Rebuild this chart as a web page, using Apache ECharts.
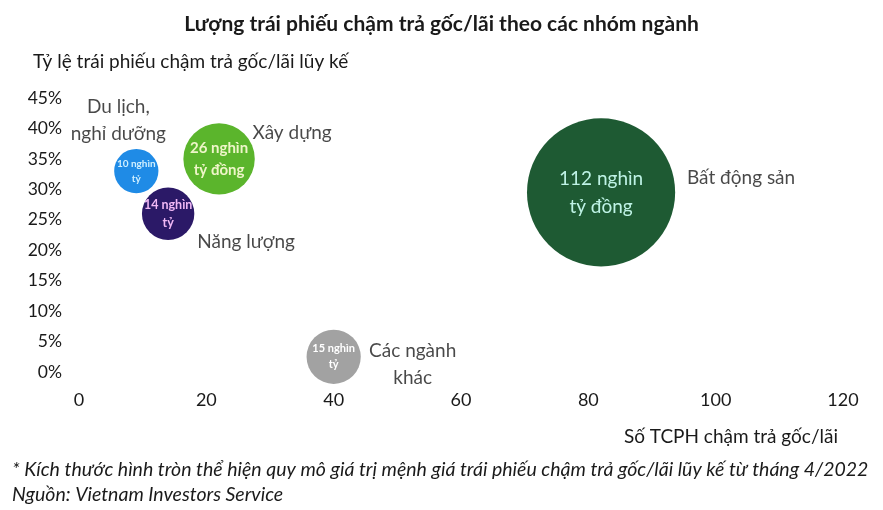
<!DOCTYPE html>
<html>
<head>
<meta charset="utf-8">
<script src="https://cdn.jsdelivr.net/npm/echarts@6/dist/echarts.min.js"></script>
<style>
    html, body { margin: 0; padding: 0; background: #fff; }
    #chart { width: 883px; height: 510px; }
</style>
</head>
<body>
<div id="chart"></div>
<script>
// dữ liệu
const sectors = ['Du lịch,\nnghỉ dưỡng', 'Năng lượng', 'Xây dựng', 'Các ngành\nkhác', 'Bất động sản'];
const issuers = [9, 14, 22, 40, 82];          // Số TCPH chậm trả gốc/lãi
const ratios = [33, 26, 35, 2.5, 29.5];       // Tỷ lệ (%)
const values = [10, 14, 26, 15, 112];         // nghìn tỷ đồng
const bubbleLabels = ['10 nghìn\ntỷ', '14 nghìn\ntỷ', '26 nghìn\ntỷ đồng', '15 nghìn\ntỷ', '112 nghìn\ntỷ đồng'];
const xTicks = [0, 20, 40, 60, 80, 100, 120];
const yTicks = [0, 5, 10, 15, 20, 25, 30, 35, 40, 45];

// kiểu
const colors = ['#1f8be6', '#2b1967', '#5bb52c', '#a2a2a2', '#1e5a33'];
const textColors = ['#cfefff', '#f0b8f5', '#eef5c8', '#ffffff', '#bff3e6'];
const textSizes = [10, 12.5, 15, 11, 19];
const nameOffsets = [[-18, -51], [78, 28], [73, -26], [79, 8], [140, -15]];
const FONT = 'Lato';

let myChart = echarts.init(document.getElementById('chart'));

let bubbleData = sectors.map(function (s, i) {
    return {
        name: s,
        value: [issuers[i], ratios[i], values[i]],
        itemStyle: { color: colors[i], opacity: 1 },
        label: {
            show: true,
            position: 'inside',
            formatter: bubbleLabels[i],
            color: textColors[i],
            fontSize: textSizes[i],
            fontWeight: i === 4 ? 'normal' : 'bold',
            lineHeight: Math.round(textSizes[i] * 1.45),
            fontFamily: FONT,
        },
    };
});

let nameData = sectors.map(function (s, i) {
    return {
        name: s,
        value: [issuers[i], ratios[i]],
        label: {
            show: true,
            position: 'inside',
            offset: nameOffsets[i],
            formatter: s,
            color: '#1a1a1a',
            fontSize: 19,
            lineHeight: 27,
            fontFamily: FONT,
        },
    };
});

let option = {
    animation: false,
    title: [
        {
            text: 'Lượng trái phiếu chậm trả gốc/lãi theo các nhóm ngành',
            left: 'center',
            top: 9,
            textStyle: { color: '#1a1a1a', fontSize: 21, fontWeight: 'bold', fontFamily: FONT },
        },
        {
            text: 'Tỷ lệ trái phiếu chậm trả gốc/lãi lũy kế',
            left: 28,
            top: 47,
            textStyle: { color: '#1a1a1a', fontSize: 19, fontWeight: 'normal', fontFamily: FONT },
        },
        {
            text: 'Số TCPH chậm trả gốc/lãi',
            right: 40,
            top: 422,
            textStyle: { color: '#1a1a1a', fontSize: 19, fontWeight: 'normal', fontFamily: FONT },
        },
        {
            text: '* Kích thước hình tròn thể hiện quy mô giá trị mệnh giá trái phiếu chậm trả gốc/lãi lũy kế từ tháng 4/2022',
            left: 7,
            top: 455,
            textStyle: { color: '#1a1a1a', fontSize: 19.5, fontWeight: 'normal', fontStyle: 'italic', fontFamily: FONT },
        },
        {
            text: 'Nguồn: Vietnam Investors Service',
            left: 7,
            top: 480,
            textStyle: { color: '#1a1a1a', fontSize: 19.5, fontWeight: 'normal', fontStyle: 'italic', fontFamily: FONT },
        },
    ],
    grid: {
        left: 79,
        right: 40,
        top: 98,
        bottom: 138,
        containLabel: false,
    },
    xAxis: {
        type: 'value',
        min: xTicks[0],
        max: xTicks[xTicks.length - 1],
        interval: xTicks[1] - xTicks[0],
        axisLine: { show: false },
        axisTick: { show: false },
        splitLine: { show: false },
        axisLabel: { margin: 19, color: '#1a1a1a', fontSize: 18, fontFamily: FONT },
    },
    yAxis: {
        type: 'value',
        min: yTicks[0],
        max: yTicks[yTicks.length - 1],
        interval: yTicks[1] - yTicks[0],
        axisLine: { show: false },
        axisTick: { show: false },
        splitLine: { show: false },
        axisLabel: { margin: 17, color: '#1a1a1a', fontSize: 17.5, fontFamily: FONT, formatter: '{value}%' },
    },
    series: [
        {
            type: 'scatter',
            symbol: 'circle',
            symbolSize: function (d) {
                return 14 * Math.sqrt(d[2]);
            },
            data: bubbleData,
            z: 2,
        },
        {
            type: 'scatter',
            symbol: 'circle',
            symbolSize: 1,
            itemStyle: { color: 'rgba(0,0,0,0)' },
            data: nameData,
            z: 3,
        },
    ],
};

myChart.setOption(option);
window.addEventListener('resize', function () {
    myChart.resize();
});
</script>
</body>
</html>
